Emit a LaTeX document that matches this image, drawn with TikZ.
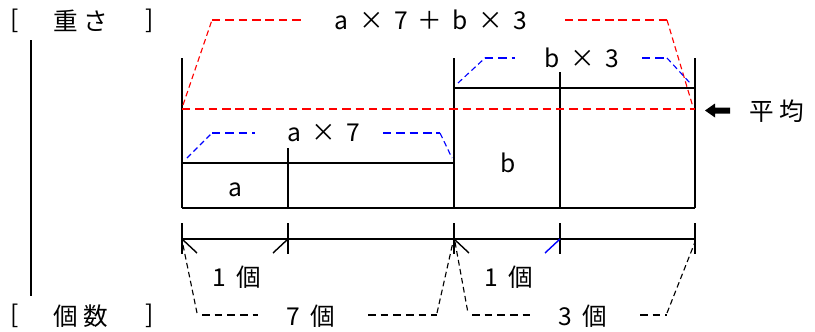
\documentclass[tikz,border=0pt]{standalone}
\usepackage{fontspec}
\setmainfont{Noto Sans CJK JP}
\usetikzlibrary{positioning}
\tikzset{
  wall/.style={line width=1.6pt},
  avgline/.style={draw=red, line width=1.3pt, dash pattern=on 6pt off 3.5pt},
  avgslant/.style={draw=red, line width=0.8pt, dash pattern=on 4pt off 2.5pt},
  partline/.style={draw=blue, line width=1.3pt, dash pattern=on 6pt off 3.5pt},
  partslant/.style={draw=blue, line width=0.8pt, dash pattern=on 4pt off 2.5pt},
  countline/.style={line width=0.9pt, dash pattern=on 5.5pt off 3.5pt},
  countslant/.style={line width=0.8pt, dash pattern=on 4pt off 2.5pt},
  barb/.style={line width=1pt},
  lbl/.style={font=\fontsize{17.5}{20}\selectfont, inner sep=0pt},
  every picture/.style={x=0.025cm, y=-0.025cm}
}
\newcommand{\gp}{\hspace{0.42em}}
\newcommand{\jg}{\hspace{0.2em}}

\begin{document}
\begin{tikzpicture}
  \useasboundingbox (0,0) rectangle (815,331);
  % axis titles
  \node[lbl] (wbra) at (15,21) {[};
  \node[lbl] (wtxt) at (81,21) {重\jg さ};
  \node[lbl] (wket) at (150,21) {]};
  \node[lbl] (cbra) at (15,316) {[};
  \node[lbl] (ctxt) at (81,316) {個\jg 数};
  \node[lbl] (cket) at (150,316) {]};
  \draw[wall] (31,40) -- (31,296);
  % boxes
  \draw[wall] (182,58) -- (182,208);
  \draw[wall] (288,148) -- (288,208);
  \draw[wall] (454,58) -- (454,208);
  \draw[wall] (560,72) -- (560,208);
  \draw[wall] (695,58) -- (695,208);
  \draw[wall] (182,163) -- (454,163);
  \draw[wall] (454,88) -- (695,88);
  \draw[wall] (182,208) -- (695,208);
  \node[lbl] (a) at (235,190) {a};
  \node[lbl] (b) at (508,163) {b};
  % average
  \draw[avgline] (182,109) -- (695,109);
  \node[lbl] (sum) at (431,20) {a\gp×\gp7\gp＋\gp b\gp×\gp3};
  \draw[avgslant] (183,105) -- (212,20);
  \draw[avgline] (212,20) -- (305,20);
  \draw[avgline] (565,20) -- (667,20);
  \draw[avgslant] (667,20) -- (693,107);
  \fill (705,110.5) -- (715,103.5) -- (715,107.5) -- (730,107.5) -- (730,113.5) -- (715,113.5) -- (715,117.5) -- cycle;
  \node[lbl] (mean) at (777,111) {平\jg 均};
  % parts
  \node[lbl] (atot) at (324,133) {a\gp×\gp7};
  \draw[partslant] (187,158) -- (212,133);
  \draw[partline] (212,133) -- (255,133);
  \draw[partline] (383,133) -- (440,133);
  \draw[partslant] (440,133) -- (452,158);
  \node[lbl] (btot) at (582,58) {b\gp×\gp3};
  \draw[partslant] (458,83) -- (485,58);
  \draw[partline] (485,58) -- (515,58);
  \draw[partline] (642,58) -- (667,58);
  \draw[partslant] (667,58) -- (690,83);
  % counts
  \draw[wall] (182,239) -- (695,239);
  \foreach \x in {182,288,454,560,695}
    \draw[wall] (\x,223) -- (\x,254);
  \draw[barb] (182,239) -- (197,253);
  \draw[barb] (288,239) -- (273,253);
  \draw[barb] (454,239) -- (469,253);
  \draw[barb, blue] (560,239) -- (545,253);
  \node[lbl] (one1) at (237,277) {1\gp 個};
  \node[lbl] (one2) at (509,277) {1\gp 個};
  \node[lbl] (seven) at (311,316) {7\gp 個};
  \node[lbl] (three) at (583,316) {3\gp 個};
  \draw[countslant] (183,245) -- (197,313);
  \draw[countline] (202,315) -- (258,315);
  \draw[countline] (368,315) -- (437,315);
  \draw[countslant] (437,313) -- (453,242);
  \draw[countslant] (455,242) -- (468,313);
  \draw[countline] (472,315) -- (530,315);
  \draw[countline] (640,315) -- (667,315);
  \draw[countslant] (667,313) -- (695,242);
\end{tikzpicture}
\end{document}
